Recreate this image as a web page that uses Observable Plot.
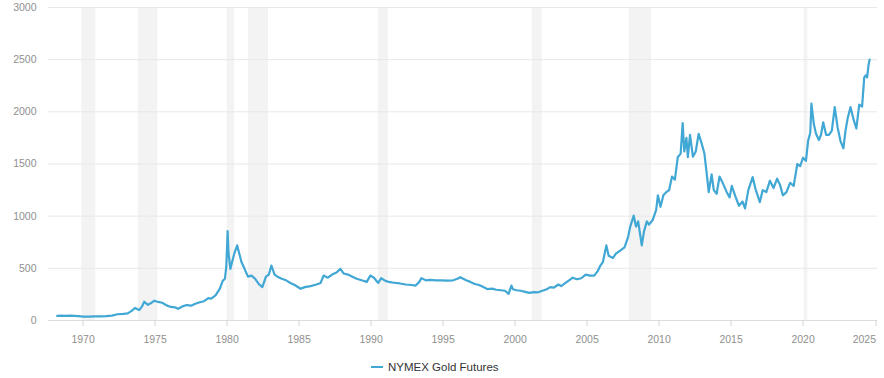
<!DOCTYPE html>
<html>
<head>
<meta charset="utf-8">
<script src="https://cdn.jsdelivr.net/npm/d3@7"></script>
<script src="https://cdn.jsdelivr.net/npm/@observablehq/plot@0.6"></script>
<style>
  html, body { margin: 0; padding: 0; background: #fff; }
  #wrap { position: relative; width: 884px; height: 378px; font-family: "Liberation Sans", Arial, sans-serif; }
  #legend { position: absolute; left: 371px; top: 361px; font-size: 11.5px; color: #333; display: flex; align-items: center; }
  #legend .sw { width: 12px; height: 2px; background: #41a7d4; margin-right: 5px; }
</style>
</head>
<body>
<div id="wrap">
  <div id="chart"></div>
  <div id="legend"><span class="sw"></span><span>NYMEX Gold Futures</span></div>
</div>
<script>
// Decimal year of each reading
const years = [
  1968.2, 1968.5, 1968.8, 1969.1, 1969.4, 1969.7, 1970.0, 1970.4, 1970.8, 1971.2, 1971.6, 1972.0,
  1972.4, 1972.8, 1973.1, 1973.4, 1973.6, 1973.9, 1974.1, 1974.25, 1974.5, 1974.7, 1974.95, 1975.2,
  1975.5, 1975.8, 1976.1, 1976.4, 1976.6, 1976.9, 1977.2, 1977.5, 1977.8, 1978.1, 1978.4, 1978.7,
  1978.9, 1979.2, 1979.5, 1979.7, 1979.85, 1979.95, 1980.04, 1980.1, 1980.23, 1980.35, 1980.5, 1980.7,
  1980.85, 1981.0, 1981.2, 1981.45, 1981.7, 1981.95, 1982.2, 1982.45, 1982.7, 1982.9, 1983.08, 1983.3,
  1983.5, 1983.8, 1984.1, 1984.4, 1984.7, 1985.1, 1985.4, 1985.8, 1986.2, 1986.5, 1986.7, 1987.0,
  1987.3, 1987.6, 1987.87, 1988.1, 1988.4, 1988.7, 1989.0, 1989.4, 1989.7, 1989.95, 1990.2, 1990.5,
  1990.7, 1991.0, 1991.3, 1991.6, 1992.0, 1992.4, 1992.8, 1993.1, 1993.35, 1993.5, 1993.8, 1994.1,
  1994.5, 1994.9, 1995.3, 1995.7, 1996.0, 1996.2, 1996.6, 1996.9, 1997.2, 1997.5, 1997.8, 1998.1,
  1998.4, 1998.7, 1999.0, 1999.3, 1999.55, 1999.75, 1999.85, 2000.1, 2000.4, 2000.7, 2001.0, 2001.3,
  2001.6, 2001.9, 2002.2, 2002.45, 2002.7, 2003.0, 2003.2, 2003.5, 2003.8, 2004.0, 2004.3, 2004.6,
  2004.9, 2005.2, 2005.5, 2005.75, 2005.9, 2006.1, 2006.34, 2006.5, 2006.8, 2007.0, 2007.3, 2007.6,
  2007.85, 2008.0, 2008.24, 2008.4, 2008.55, 2008.8, 2008.95, 2009.15, 2009.3, 2009.55, 2009.8, 2009.92,
  2010.1, 2010.3, 2010.5, 2010.7, 2010.9, 2011.1, 2011.3, 2011.5, 2011.64, 2011.75, 2011.9, 2012.0,
  2012.15, 2012.35, 2012.55, 2012.75, 2012.95, 2013.15, 2013.3, 2013.45, 2013.65, 2013.8, 2014.0, 2014.2,
  2014.45, 2014.7, 2014.9, 2015.05, 2015.3, 2015.55, 2015.8, 2015.97, 2016.2, 2016.5, 2016.7, 2017.0,
  2017.2, 2017.45, 2017.7, 2017.95, 2018.2, 2018.4, 2018.6, 2018.85, 2019.1, 2019.35, 2019.6, 2019.8,
  2020.0, 2020.2, 2020.35, 2020.5, 2020.58, 2020.75, 2020.9, 2021.1, 2021.25, 2021.4, 2021.6, 2021.8,
  2022.0, 2022.2, 2022.4, 2022.6, 2022.8, 2022.95, 2023.1, 2023.3, 2023.5, 2023.7, 2023.9, 2024.1,
  2024.25, 2024.35, 2024.45, 2024.55, 2024.62
];
// NYMEX gold futures price, USD per troy ounce
const prices = [
  45, 46, 44, 46, 45, 42, 38, 38, 39, 40, 42, 47,
  60, 64, 68, 95, 120, 100, 135, 180, 150, 165, 190, 178,
  170, 145, 130, 125, 112, 135, 148, 142, 160, 175, 185, 215,
  210, 240, 305, 380, 400, 520, 856, 650, 495, 560, 640, 720,
  640, 560, 500, 420, 430, 400, 350, 320, 420, 440, 527, 440,
  420, 400, 385, 360, 340, 304, 320, 330, 345, 360, 431, 410,
  440, 460, 495, 450, 440, 420, 400, 383, 370, 431, 410, 360,
  405, 380, 367, 362, 355, 345, 340, 335, 370, 406, 385, 390,
  385, 385, 382, 385, 400, 415, 385, 370, 350, 340, 320, 300,
  305, 295, 290, 285, 256, 335, 300, 290, 285, 275, 265, 272,
  270, 285, 300, 320, 315, 345, 330, 360, 390, 410, 395, 405,
  440, 430, 430, 475, 520, 560, 720, 620, 600, 640, 670, 700,
  800, 900, 1005, 900, 950, 720, 850, 950, 920, 960, 1060, 1200,
  1090, 1200, 1230, 1250, 1380, 1350, 1565, 1600, 1892, 1620, 1750, 1565,
  1780, 1570, 1620, 1790, 1700, 1600, 1420, 1230, 1400, 1250, 1215, 1380,
  1310, 1230, 1180, 1290, 1190, 1100, 1140, 1074, 1250, 1375, 1260, 1135,
  1250, 1230, 1340, 1270, 1360, 1300, 1200, 1230, 1320, 1290, 1500, 1480,
  1560, 1530, 1720, 1800, 2080, 1880, 1790, 1730, 1780, 1900, 1780, 1780,
  1820, 2045, 1850, 1720, 1650, 1820, 1940, 2045, 1930, 1840, 2070, 2050,
  2330, 2350, 2330, 2450, 2500
];
// US recessions (decimal years)
const recStart = [1969.92, 1973.83, 1980.0, 1981.5, 1990.5, 2001.2, 2007.92, 2020.08];
const recEnd   = [1970.88, 1975.2, 1980.53, 1982.88, 1991.2, 2001.88, 2009.47, 2020.33];

const xTicks = [1970, 1975, 1980, 1985, 1990, 1995, 2000, 2005, 2010, 2015, 2020, 2025];
const yTicks = [0, 500, 1000, 1500, 2000, 2500, 3000];

const series = years.map((t, i) => ({t, v: prices[i]}));
const recessions = recStart.map((s, i) => ({s, e: recEnd[i]}));
const lastTick = xTicks[xTicks.length - 1];

const chart = Plot.plot({
  width: 884,
  height: 352,
  marginTop: 7,
  marginLeft: 48,
  marginRight: 7,
  marginBottom: 32,
  style: {fontFamily: "'Liberation Sans', Arial, sans-serif", fontSize: "10.5px", color: "#8f8f8f", background: "#fff"},
  x: {domain: [1967.6, 2025.17], label: null},
  y: {domain: [0, 3000], label: null},
  marks: [
    Plot.rectX(recessions, {x1: "s", x2: "e", y1: 0, y2: 3000, fill: "#f3f3f3"}),
    Plot.gridY(yTicks.filter(d => d > 0), {stroke: "#e8e8e8", strokeOpacity: 1}),
    Plot.ruleY([0], {stroke: "#dcdcdc"}),
    Plot.axisY({ticks: yTicks, tickSize: 0, tickPadding: 12, label: null, tickFormat: d => String(d)}),
    Plot.axisX({ticks: xTicks.filter(d => d !== lastTick), tickSize: 6, tickPadding: 9, stroke: "#d6d6d6", label: null, tickFormat: d => String(d)}),
    Plot.axisX({ticks: [lastTick], tickSize: 6, tickPadding: 9, stroke: "#d6d6d6", label: null, textAnchor: "end", dx: 1, tickFormat: d => String(d)}),
    Plot.lineY(series, {x: "t", y: "v", stroke: "#41a7d4", strokeWidth: 2.2, curve: "linear"})
  ]
});
document.getElementById("chart").appendChild(chart);
</script>
</body>
</html>
